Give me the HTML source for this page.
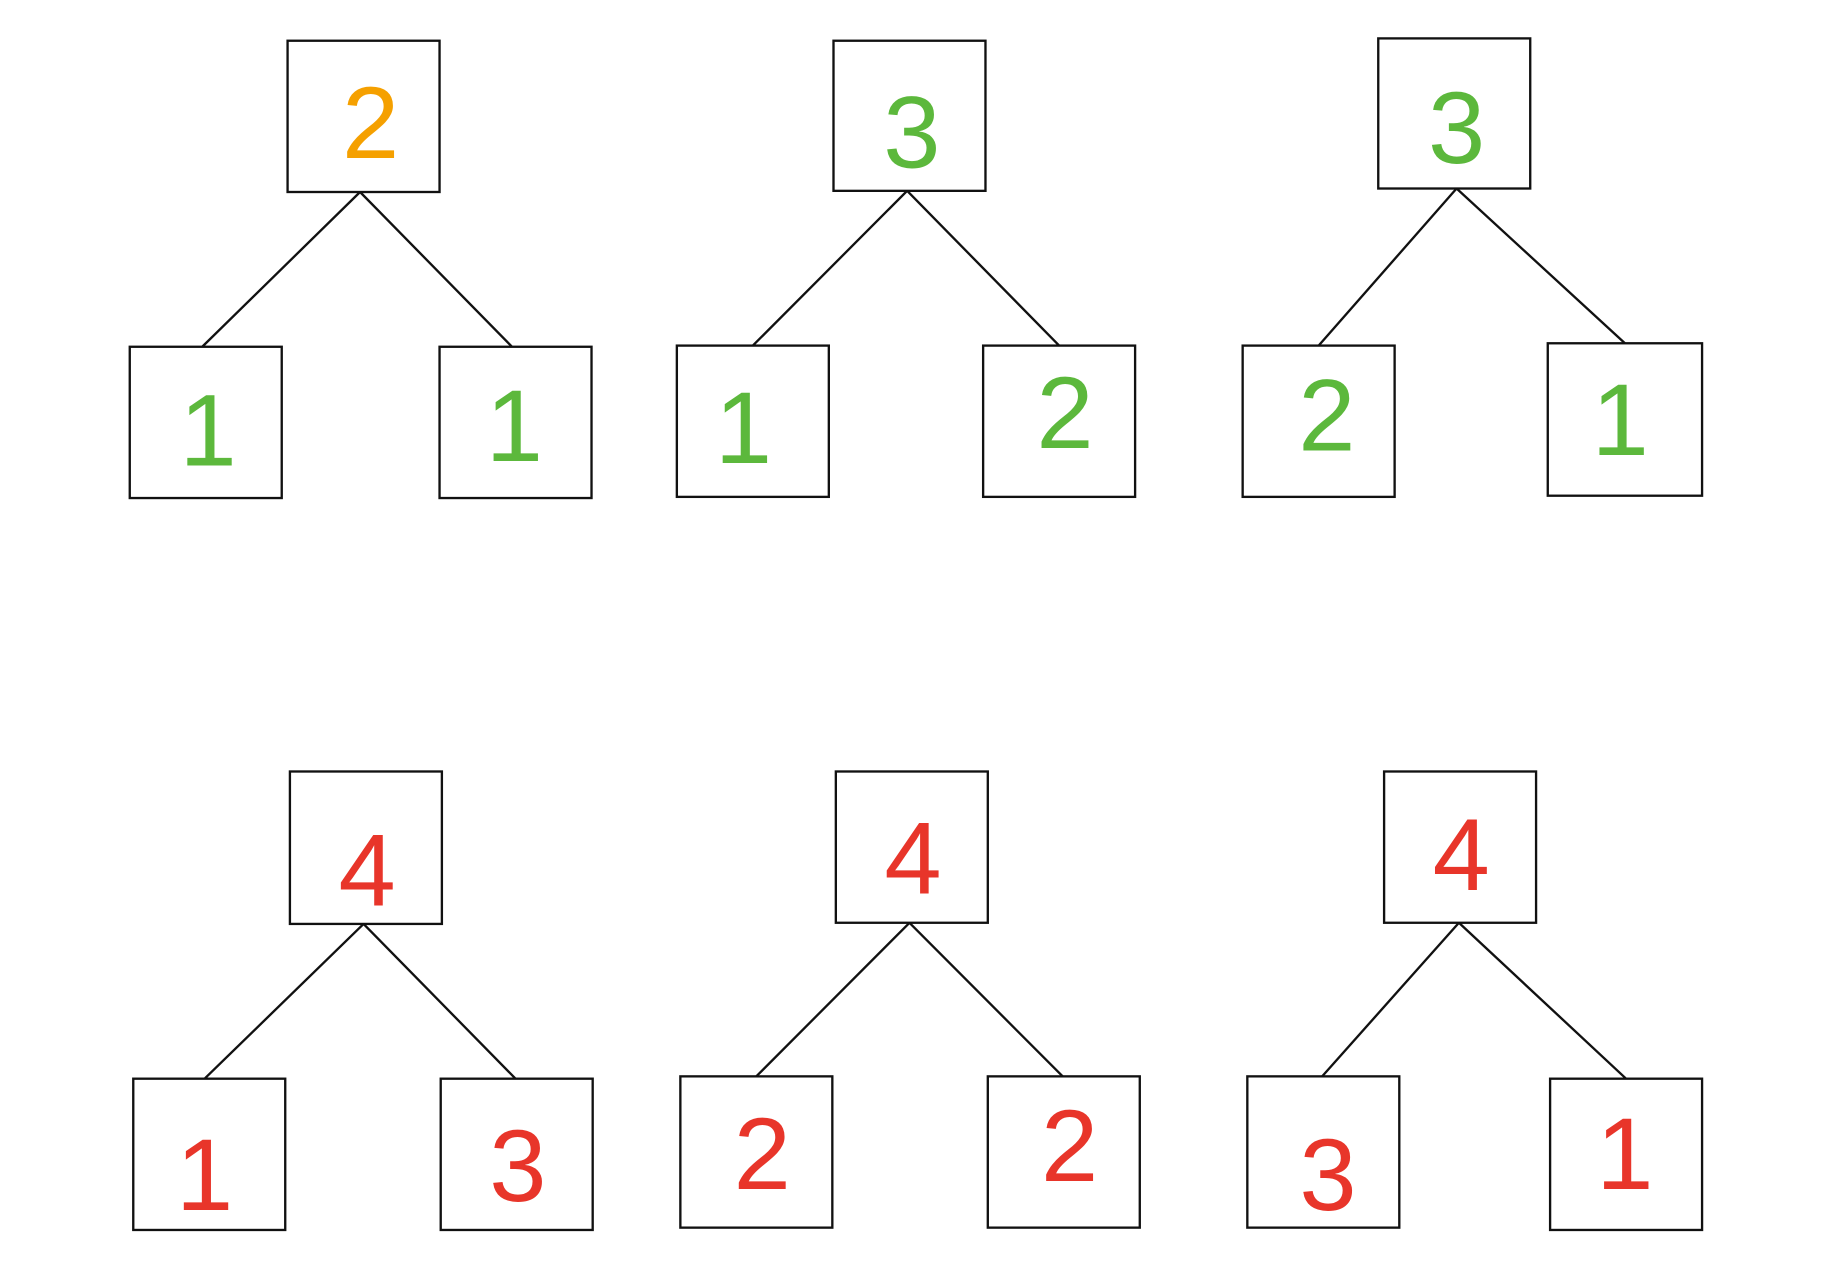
<!DOCTYPE html>
<html><head><style>html,body{margin:0;padding:0;background:#fff}svg{display:block}</style></head><body>
<svg width="1833" height="1280" viewBox="0 0 1568 1100" preserveAspectRatio="none" xmlns="http://www.w3.org/2000/svg">
<g fill="none" stroke="#111" stroke-width="2">
<rect x="246" y="35" width="130" height="130"/><rect x="111" y="298" width="130" height="130"/><rect x="376" y="298" width="130" height="130"/>
<path d="M308 165L173 298M308 165L438 298"/>
<rect x="713" y="35" width="130" height="129"/><rect x="579" y="297" width="130" height="130"/><rect x="841" y="297" width="130" height="130"/>
<path d="M776 164L644 297M776 164L906 297"/>
<rect x="1179" y="33" width="130" height="129"/><rect x="1063" y="297" width="130" height="130"/><rect x="1324" y="295" width="132" height="131"/>
<path d="M1246 162L1128 297M1246 162L1390 295"/>
<rect x="248" y="663" width="130" height="131"/><rect x="114" y="927" width="130" height="130"/><rect x="377" y="927" width="130" height="130"/>
<path d="M311 794L175 927M311 794L441 927"/>
<rect x="715" y="663" width="130" height="130"/><rect x="582" y="925" width="130" height="130"/><rect x="845" y="925" width="130" height="130"/>
<path d="M778 793L647 925M778 793L909 925"/>
<rect x="1184" y="663" width="130" height="130"/><rect x="1067" y="925" width="130" height="130"/><rect x="1326" y="927" width="130" height="130"/>
<path d="M1248 793L1131 925M1248 793L1391 927"/>
</g>
<g font-family="Liberation Sans, sans-serif" font-size="88" text-anchor="middle">
<text x="317" y="136" fill="#f5a000">2</text>
<g fill="#5cb83c">
<text x="178" y="400">1</text><text x="440" y="396">1</text>
<text x="780" y="144">3</text><text x="636" y="398">1</text><text x="911" y="385">2</text>
<text x="1246" y="140">3</text><text x="1135" y="387">2</text><text x="1386" y="391">1</text>
</g>
<g fill="#e8352a">
<text x="314" y="778">4</text><text x="175" y="1040">1</text><text x="443" y="1032">3</text>
<text x="781" y="768">4</text><text x="652" y="1022">2</text><text x="915" y="1015">2</text>
<text x="1250" y="765">4</text><text x="1136" y="1040">3</text><text x="1390" y="1022">1</text>
</g>
</g>
</svg>
</body></html>
